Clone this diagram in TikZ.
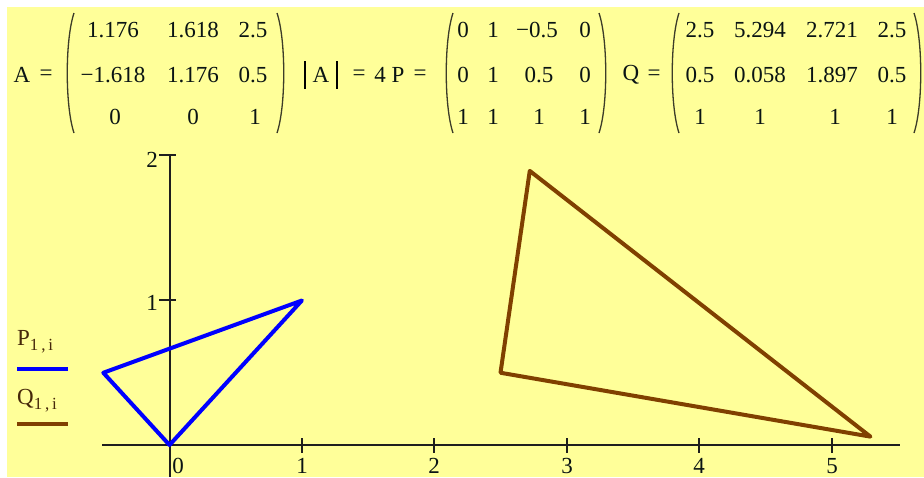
\documentclass[tikz,border=0pt]{standalone}
\usepackage{fontspec}
\setmainfont{Liberation Serif}
\begin{document}
\begin{tikzpicture}[x=1pt,y=-1pt,
  txt/.style={inner sep=0pt,font=\fontsize{23}{23}\selectfont,text={rgb,255:red,10;green,20;blue,20}},
  lbl/.style={inner sep=0pt,font=\fontsize{23}{23}\selectfont,text={rgb,255:red,10;green,20;blue,20}},
  leg/.style={inner sep=0pt,anchor=west,font=\fontsize{23}{23}\selectfont,text={rgb,255:red,70;green,40;blue,10}},
  paren/.style={line width=1.3pt,draw={rgb,255:red,60;green,60;blue,40}},
  axis/.style={line width=1.7pt,draw={rgb,255:red,30;green,30;blue,30}},
  pline/.style={line width=4pt,draw={rgb,255:red,0;green,0;blue,255},line join=round},
  qline/.style={line width=4pt,draw={rgb,255:red,128;green,64;blue,0},line join=round}]
\useasboundingbox (0,0) rectangle (924,477);
\fill[white] (0,0) rectangle (924,477);
\fill[fill={rgb,255:red,255;green,255;blue,153}] (7,7) rectangle (924,477);
% ---------- A ----------
\node[txt] (Aname) at (22,75) {A};
\node[txt] (Aeq) at (46,75) {=};
\draw[paren] (74,13) .. controls (65,40) and (65,106) .. (74,133);
\draw[paren] (277,13) .. controls (286,40) and (286,106) .. (277,133);
\node[txt] (a11) at (113,30) {1.176};
\node[txt] (a12) at (193,30) {1.618};
\node[txt] (a13) at (253,30) {2.5};
\node[txt] (a21) at (113,75) {\textminus 1.618};
\node[txt] (a22) at (193,75) {1.176};
\node[txt] (a23) at (253,75) {0.5};
\node[txt] (a31) at (115,117) {0};
\node[txt] (a32) at (193,117) {0};
\node[txt] (a33) at (255,117) {1};
% ---------- |A| = 4  P ----------
\node[txt] (detA) at (321,75) {A};
\draw[line width=1.5pt] (305,61) -- (305,89);
\draw[line width=1.5pt] (337,61) -- (337,89);
\node[txt] (deq) at (359,75) {=};
\node[txt] (dval) at (380,75) {4};
\node[txt] (Pname) at (398,75) {P};
\node[txt] (Peq) at (420,75) {=};
\draw[paren] (453,13) .. controls (444,40) and (444,106) .. (453,133);
\draw[paren] (599,13) .. controls (608,40) and (608,106) .. (599,133);
\node[txt] (p11) at (463,30) {0};
\node[txt] (p12) at (493,30) {1};
\node[txt] (p13) at (537,30) {\textminus 0.5};
\node[txt] (p14) at (585,30) {0};
\node[txt] (p21) at (463,75) {0};
\node[txt] (p22) at (493,75) {1};
\node[txt] (p23) at (539,75) {0.5};
\node[txt] (p24) at (585,75) {0};
\node[txt] (p31) at (463,117) {1};
\node[txt] (p32) at (493,117) {1};
\node[txt] (p33) at (539,117) {1};
\node[txt] (p34) at (585,117) {1};
% ---------- Q ----------
\node[txt] (Qname) at (631,75) {Q};
\node[txt] (Qeq) at (654,75) {=};
\draw[paren] (679,13) .. controls (670,40) and (670,106) .. (679,133);
\draw[paren] (914,13) .. controls (923,40) and (923,106) .. (914,133);
\node[txt] (q11) at (700,30) {2.5};
\node[txt] (q12) at (760,30) {5.294};
\node[txt] (q13) at (832,30) {2.721};
\node[txt] (q14) at (892,30) {2.5};
\node[txt] (q21) at (700,75) {0.5};
\node[txt] (q22) at (760,75) {0.058};
\node[txt] (q23) at (832,75) {1.897};
\node[txt] (q24) at (892,75) {0.5};
\node[txt] (q31) at (700,117) {1};
\node[txt] (q32) at (760,117) {1};
\node[txt] (q33) at (835,117) {1};
\node[txt] (q34) at (892,117) {1};
% ---------- axes ----------
\draw[axis] (102,445) -- (900,445);
\draw[axis] (170,155) -- (170,477);
\foreach \yy in {155,300,445} \draw[axis] (159,\yy) -- (176,\yy);
\foreach \xx in {302,434,567,699,832} \draw[axis] (\xx,438) -- (\xx,453);
\node[lbl] (yl2) at (152,160) {2};
\node[lbl] (yl1) at (152,303) {1};
\node[lbl] (xl0) at (178,466) {0};
\node[lbl] (xl1) at (302,466) {1};
\node[lbl] (xl2) at (434,466) {2};
\node[lbl] (xl3) at (567,466) {3};
\node[lbl] (xl4) at (699,466) {4};
\node[lbl] (xl5) at (832,466) {5};
% ---------- data ----------
\begin{scope}[shift={(169.5pt,-445pt)},x=132.4pt,y=144.5pt]
\draw[pline] (0,0) -- (1,1) -- (-0.5,0.5) -- cycle;
\draw[qline] (2.5,0.5) -- (5.294,0.058) -- (2.721,1.897) -- cycle;
\end{scope}
% ---------- legend ----------
\node[leg] (legP) at (17,342) {P\raisebox{-5pt}{\fontsize{17}{17}\selectfont 1\,,\,i}};
\node[leg] (legQ) at (17,401) {Q\raisebox{-5pt}{\fontsize{17}{17}\selectfont 1\,,\,i}};
\draw[pline,line cap=butt] (17,369) -- (68,369);
\draw[qline,line cap=butt] (17,424) -- (68,424);
\end{tikzpicture}
\end{document}
